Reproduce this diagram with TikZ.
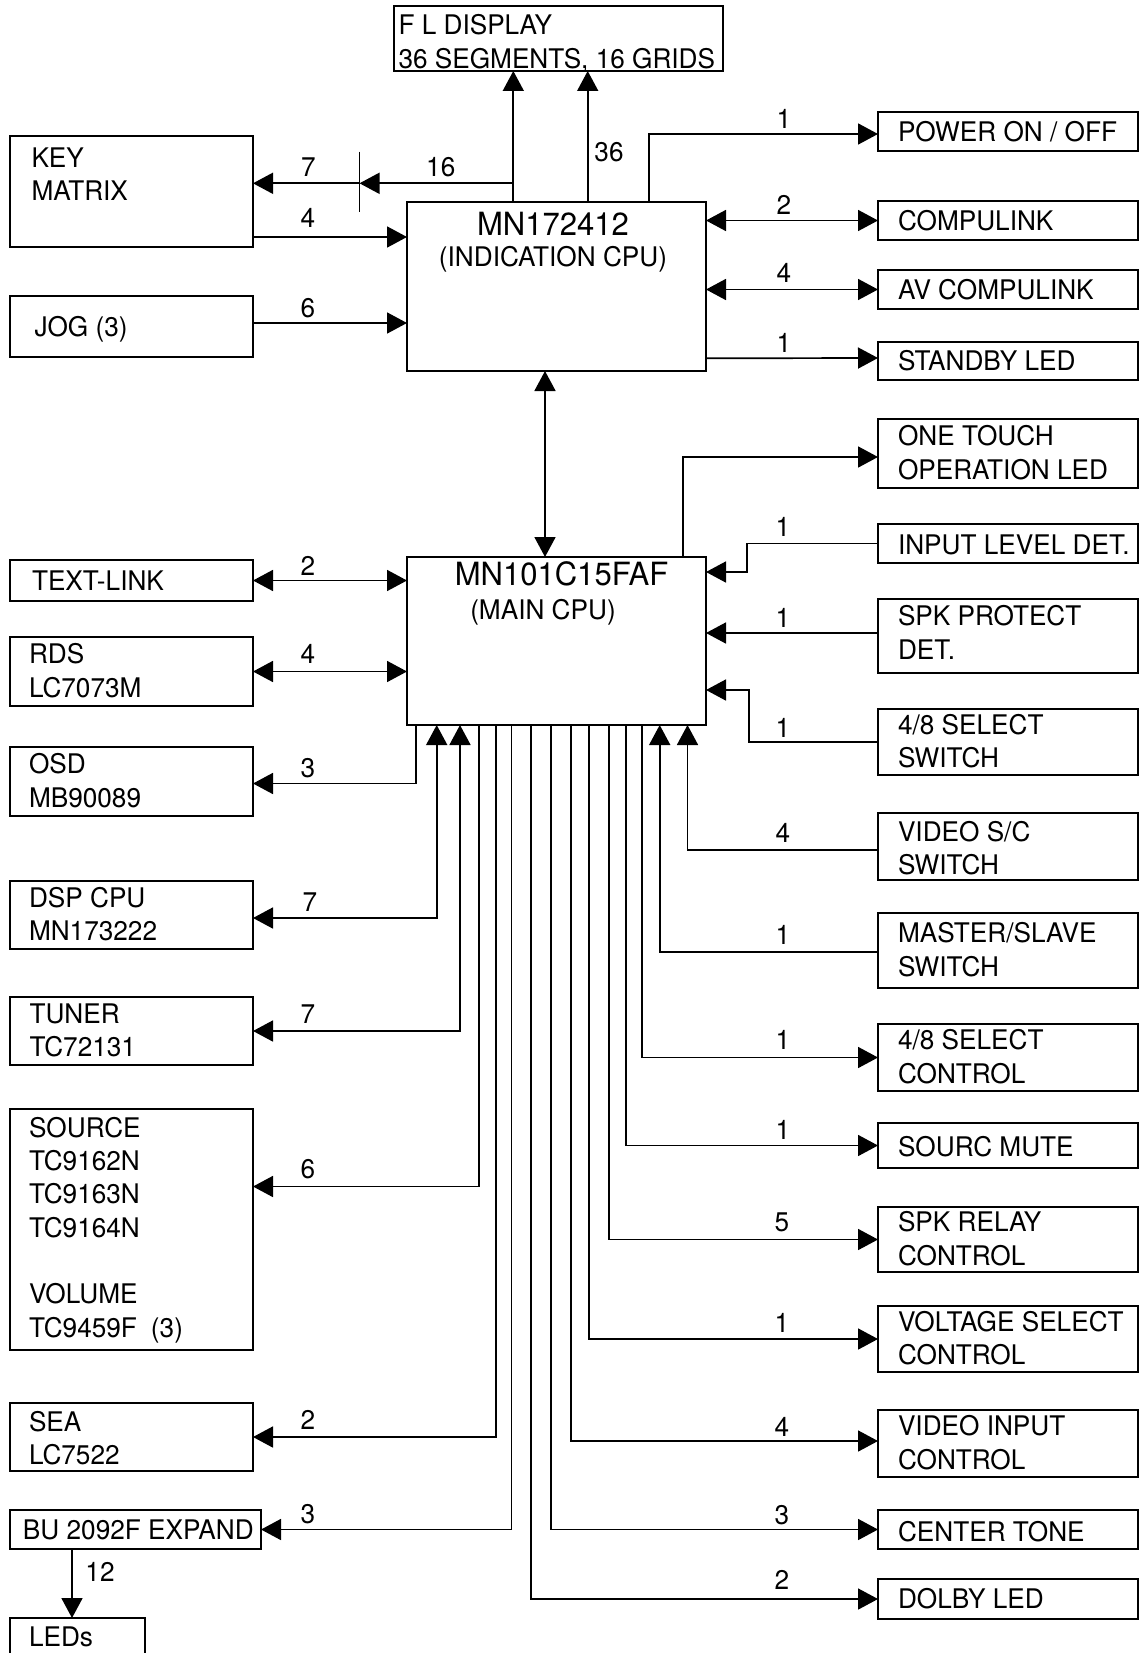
\documentclass[tikz,border=0pt]{standalone}
\usepackage{fontspec}
\setmainfont{TeX Gyre Heros}[FakeStretch=0.97]
\usetikzlibrary{arrows.meta,calc}
\newcommand{\fsz}{\fontsize{27pt}{33.3pt}\selectfont}
\newcommand{\ftit}{\fontsize{32pt}{36pt}\selectfont}
\newcommand{\fsub}{\fontsize{27pt}{30pt}\selectfont}
\newcommand{\TopS}{\rule{0pt}{26.4pt}}
\newcommand{\BotS}{\rule[-7pt]{0pt}{7pt}}
\begin{document}
\begin{tikzpicture}[x=1pt,y=-1pt,
  boxst/.style={draw, line width=2pt, inner sep=0pt, outer sep=0pt, anchor=north west},
  txt/.style={inner sep=0pt, outer sep=0pt, anchor=west, align=left, font=\fsz,
    execute at begin node=\TopS, execute at end node=\BotS},
  ml/.style={yshift=-2.5pt},
  num/.style={inner sep=0pt, font=\fsz},
  conn/.style={line width=1.7pt},
  arr/.style={conn, -{Triangle[length=20pt,width=21pt]}},
  darr/.style={conn, {Triangle[length=20pt,width=21pt]}-{Triangle[length=20pt,width=21pt]}},
]
\path[use as bounding box, fill=white] (0,0) rectangle (1140,1653);

% ---------- boxes ----------
\node[boxst, minimum width=329pt, minimum height=65pt] (fl) at (394,6) {};
\node[boxst, minimum width=243pt, minimum height=111pt] (keym) at (10,136) {};
\node[boxst, minimum width=243pt, minimum height=61pt] (jog) at (10,296) {};
\node[boxst, minimum width=299pt, minimum height=169pt] (ind) at (407,202) {};
\node[boxst, minimum width=299pt, minimum height=168pt] (main) at (407,557) {};

\node[boxst, minimum width=260pt, minimum height=39pt] (power) at (878,112.5) {};
\node[boxst, minimum width=260pt, minimum height=39pt] (compulink) at (878,201) {};
\node[boxst, minimum width=260pt, minimum height=39pt] (av) at (878,270) {};
\node[boxst, minimum width=260pt, minimum height=38pt] (standby) at (878,342) {};
\node[boxst, minimum width=260pt, minimum height=69pt] (onetouch) at (878,419) {};
\node[boxst, minimum width=260pt, minimum height=39pt] (inputlevel) at (878,524) {};
\node[boxst, minimum width=260pt, minimum height=74pt] (spkprot) at (878,599) {};
\node[boxst, minimum width=260pt, minimum height=66pt] (selsw) at (878,709) {};
\node[boxst, minimum width=260pt, minimum height=67pt] (videosc) at (878,813) {};
\node[boxst, minimum width=260pt, minimum height=75pt] (master) at (878,913) {};
\node[boxst, minimum width=260pt, minimum height=67pt] (selctl) at (878,1024) {};
\node[boxst, minimum width=260pt, minimum height=45pt] (sourcmute) at (878,1123) {};
\node[boxst, minimum width=260pt, minimum height=65pt] (spkrelay) at (878,1207) {};
\node[boxst, minimum width=260pt, minimum height=66pt] (voltage) at (878,1306) {};
\node[boxst, minimum width=260pt, minimum height=67pt] (videoin) at (878,1410) {};
\node[boxst, minimum width=260pt, minimum height=39pt] (centertone) at (878,1510) {};
\node[boxst, minimum width=260pt, minimum height=40pt] (dolby) at (878,1579) {};

\node[boxst, minimum width=243pt, minimum height=41pt] (textlink) at (10,560) {};
\node[boxst, minimum width=243pt, minimum height=69pt] (rds) at (10,637) {};
\node[boxst, minimum width=243pt, minimum height=69pt] (osd) at (10,747) {};
\node[boxst, minimum width=243pt, minimum height=68pt] (dsp) at (10,881) {};
\node[boxst, minimum width=243pt, minimum height=68pt] (tuner) at (10,997) {};
\node[boxst, minimum width=243pt, minimum height=241pt] (source) at (10,1109) {};
\node[boxst, minimum width=243pt, minimum height=68pt] (sea) at (10,1403) {};
\node[boxst, minimum width=251pt, minimum height=39pt] (bu) at (10,1510) {};
\node[boxst, minimum width=134.5pt, minimum height=38pt] (leds) at (10,1618) {};

% ---------- box texts ----------
\node[txt] (fl-t) at ([xshift=4.5pt,yshift=-6.3pt]fl.west) {F L DISPLAY\\36 SEGMENTS, 16 GRIDS};
\node[txt] (keym-t) at ([xshift=21.5pt,yshift=13.8pt]keym.west) {KEY\\MATRIX};
\node[txt] (jog-t) at ([xshift=24.5pt]jog.west) {JOG (3)};

\node[anchor=base, inner sep=0pt, font=\ftit] (ind-t1) at (553,235.2) {MN172412};
\node[anchor=base, inner sep=0pt, font=\fsub] (ind-t2) at (553,266.5) {(INDICATION CPU)};
\node[anchor=base, inner sep=0pt, font=\ftit] (main-t1) at (561.5,585.2) {MN101C15FAF};
\node[anchor=base, inner sep=0pt, font=\fsub] (main-t2) at (543,619.5) {(MAIN CPU)};

\node[txt] (power-t) at ([xshift=20pt]power.west) {POWER ON / OFF};
\node[txt] (compulink-t) at ([xshift=20pt]compulink.west) {COMPULINK};
\node[txt] (av-t) at ([xshift=20pt]av.west) {AV COMPULINK};
\node[txt] (standby-t) at ([xshift=20pt]standby.west) {STANDBY LED};
\node[txt, ml] (onetouch-t) at ([xshift=20pt]onetouch.west) {ONE TOUCH\\OPERATION LED};
\node[txt] (inputlevel-t) at ([xshift=20pt,yshift=-1.5pt]inputlevel.west) {INPUT LEVEL DET.};
\node[txt, ml] (spkprot-t) at ([xshift=20pt,yshift=2.5pt]spkprot.west) {SPK PROTECT\\DET.};
\node[txt, ml] (selsw-t) at ([xshift=20pt]selsw.west) {4/8 SELECT\\SWITCH};
\node[txt, ml] (videosc-t) at ([xshift=20pt,yshift=-2.5pt]videosc.west) {VIDEO S/C\\SWITCH};
\node[txt, ml] (master-t) at ([xshift=20pt]master.west) {MASTER/SLAVE\\SWITCH};
\node[txt, ml] (selctl-t) at ([xshift=20pt]selctl.west) {4/8 SELECT\\CONTROL};
\node[txt] (sourcmute-t) at ([xshift=20pt,yshift=-1pt]sourcmute.west) {SOURC MUTE};
\node[txt, ml] (spkrelay-t) at ([xshift=20pt]spkrelay.west) {SPK RELAY\\CONTROL};
\node[txt, ml] (voltage-t) at ([xshift=20pt]voltage.west) {VOLTAGE SELECT\\CONTROL};
\node[txt, ml] (videoin-t) at ([xshift=20pt]videoin.west) {VIDEO INPUT\\CONTROL};
\node[txt] (centertone-t) at ([xshift=20pt,yshift=-2pt]centertone.west) {CENTER TONE};
\node[txt] (dolby-t) at ([xshift=20pt]dolby.west) {DOLBY LED};

\node[txt] (textlink-t) at ([xshift=22pt]textlink.west) {TEXT-LINK};
\node[txt, ml] (rds-t) at ([xshift=19pt]rds.west) {RDS\\LC7073M};
\node[txt, ml] (osd-t) at ([xshift=19pt]osd.west) {OSD\\MB90089};
\node[txt, ml] (dsp-t) at ([xshift=19pt]dsp.west) {DSP CPU\\MN173222};
\node[txt, ml] (tuner-t) at ([xshift=19.5pt]tuner.west) {TUNER\\TC72131};
\node[txt] (source-t) at ([xshift=19pt,yshift=-1pt]source.west) {SOURCE\\TC9162N\\TC9163N\\TC9164N\\\mbox{}\\VOLUME\\TC9459F\hspace{14pt}(3)};
\node[txt, ml] (sea-t) at ([xshift=19pt,yshift=-2pt]sea.west) {SEA\\LC7522};
\node[txt] (bu-t) at ([xshift=13pt]bu.west) {BU 2092F EXPAND};
\node[txt] (leds-t) at ([xshift=19pt,yshift=0pt]leds.west) {LEDs};

% ---------- connectors ----------
\coordinate (br16) at (513.3,183.3);
\coordinate (tick) at (359.5,183.3);
\draw[arr] ([xshift=106.3pt]ind.north west) -- ([xshift=119.3pt]fl.south west);
\draw[arr] ([xshift=180.7pt]ind.north west) -- ([xshift=193.7pt]fl.south west);
\draw[arr] (br16) -- (tick);
\draw[arr] (tick) -- ([yshift=8.2pt]keym.east);
\draw[conn] ([yshift=31.6pt]tick) -- ([yshift=-28.4pt]tick);
\draw[arr] ([yshift=-45.5pt]keym.east) -- ([yshift=-35pt]ind.north west);
\draw[arr] ([yshift=3.5pt]jog.east) -- ([yshift=-121pt]ind.north west);
\draw[arr] ([xshift=242.3pt]ind.north west) |- ([yshift=-2pt]power.west);
\draw[darr] (compulink.west -| ind.east) -- (compulink.west);
\draw[darr] (av.west -| ind.east) -- (av.west);
\draw[arr] ([yshift=12.7pt]ind.south east) -- ([yshift=3pt]standby.west);
\draw[darr] ([xshift=138pt]ind.south west) -- ([xshift=138pt]main.north west);

\draw[arr] ([xshift=276pt]main.north west) |- ([yshift=-3.5pt]onetouch.west);
\draw[arr] (inputlevel.west) -- ++(-131,0) |- ([yshift=-15pt]main.north east);
\draw[arr] ([yshift=3pt]spkprot.west) -- ([yshift=-76pt]main.north east);
\draw[arr] (selsw.west) -- ++(-129,0) |- ([yshift=-133pt]main.north east);

\draw[darr] (textlink.east) -- (textlink.east -| main.west);
\draw[darr] (rds.east) -- (rds.east -| main.west);
\draw[arr] ([xshift=8.7pt]main.south west) |- ([yshift=-2pt]osd.east);
\draw[darr] ([yshift=-3pt]dsp.east) -| ([xshift=29.7pt]main.south west);
\draw[darr] (tuner.east) -| ([xshift=53pt]main.south west);
\draw[arr] ([xshift=72.3pt]main.south west) |- ([yshift=43pt]source.east);
\draw[arr] ([xshift=89pt]main.south west) |- (sea.east);
\draw[arr] ([xshift=104.5pt]main.south west) |- (bu.east);
\draw[arr] ([xshift=62pt]bu.south west) -- ([xshift=62pt]leds.north west);

\draw[arr] ([xshift=124pt]main.south west) |- (dolby.west);
\draw[arr] ([xshift=144pt]main.south west) |- (centertone.west);
\draw[arr] ([xshift=163.7pt]main.south west) |- ([yshift=2.5pt]videoin.west);
\draw[arr] ([xshift=182.3pt]main.south west) |- (voltage.west);
\draw[arr] ([xshift=201.7pt]main.south west) |- (spkrelay.west);
\draw[arr] ([xshift=219.2pt]main.south west) |- (sourcmute.west);
\draw[arr] ([xshift=234.8pt]main.south west) |- (selctl.west);
\draw[arr] ([yshift=-1.5pt]master.west) -| ([xshift=252.7pt]main.south west);
\draw[arr] ([yshift=-3.5pt]videosc.west) -| ([xshift=280.5pt]main.south west);

% ---------- numbers ----------
\node[num] (n36) at (609,151.7) {36};
\node[num] (n16) at (440.8,166.7) {16};
\node[num] (n7k) at (308.5,166.7) {7};
\node[num] (n4k) at (308,218.3) {4};
\node[num] (n6j) at (308,308.3) {6};
\node[num] (npow) at (784,119) {1};
\node[num] (ncomp) at (784,205) {2};
\node[num] (nav) at (784,272.7) {4};
\node[num] (nstby) at (784,342.7) {1};
\node[num] (ninp) at (783,527) {1};
\node[num] (nspk) at (783,618) {1};
\node[num] (nselsw) at (783,728) {1};
\node[num] (nvsc) at (783,833) {4};
\node[num] (nms) at (783,935) {1};
\node[num] (nselc) at (783,1040) {1};
\node[num] (nmute) at (783,1130) {1};
\node[num] (nrelay) at (782,1222) {5};
\node[num] (nvolt) at (782,1323) {1};
\node[num] (nvin) at (782,1427) {4};
\node[num] (nct) at (782,1515) {3};
\node[num] (ndolby) at (782,1580) {2};
\node[num] (ntl) at (308,566) {2};
\node[num] (nrds) at (308,654) {4};
\node[num] (nosd) at (308,768) {3};
\node[num] (ndsp) at (310,902) {7};
\node[num] (ntun) at (308,1014.6) {7};
\node[num] (nsrc) at (308,1169.5) {6};
\node[num] (nsea) at (308,1420) {2};
\node[num] (nbu) at (308,1514) {3};
\node[num] (nled) at (100,1571.6) {12};
\end{tikzpicture}
\end{document}
